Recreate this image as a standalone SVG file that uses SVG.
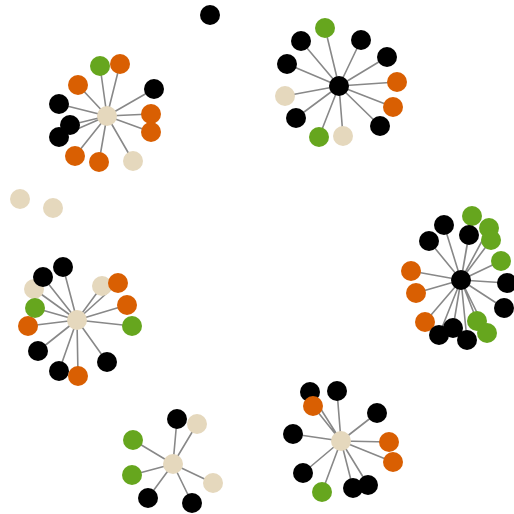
<svg xmlns="http://www.w3.org/2000/svg" width="514" height="514" viewBox="0 0 514 514">
<style>
.l{stroke:#888;stroke-width:1.6;fill:none}
.k{fill:#000}.o{fill:#d95f02}.g{fill:#66a61e}.b{fill:#e5d8bd}
</style>
<rect width="514" height="514" fill="#fff"/>
<g id="links" class="l">
<path d="M107 116L100 66M107 116L120 64M107 116L78 85M107 116L154 89M107 116L59 104M107 116L70 125M107 116L59 137M107 116L151 114M107 116L151 132M107 116L75 156M107 116L99 162M107 116L133 161"/>
<path d="M339 86L325 28M339 86L301 41M339 86L361 40M339 86L387 57M339 86L287 64M339 86L397 82M339 86L285 96M339 86L393 107M339 86L296 118M339 86L380 126M339 86L319 137M339 86L343 136"/>
<path d="M461 280L472 216M461 280L444 225M461 280L469 235M461 280L489 228M461 280L491 240M461 280L429 241M461 280L501 261M461 280L411 271M461 280L416 293M461 280L507 283M461 280L504 308M461 280L425 322M461 280L477 321M461 280L487 333M461 280L453 328M461 280L439 335M461 280L467 340"/>
<path d="M77 320L63 267M77 320L43 277M77 320L34 289M77 320L35 308M77 320L28 326M77 320L38 351M77 320L59 371M77 320L78 376M77 320L107 362M77 320L132 326M77 320L127 305M77 320L102 286M77 320L118 283"/>
<path d="M173 464L177 419M173 464L197 424M173 464L133 440M173 464L132 475M173 464L148 498M173 464L192 503M173 464L213 483"/>
<path d="M341 441L310 392M341 441L337 391M341 441L313 406M341 441L377 413M341 441L293 434M341 441L389 442M341 441L393 462M341 441L303 473M341 441L322 492M341 441L353 488M341 441L368 485"/>
</g>
<g id="isolated">
<circle id="n-iso1" class="k" cx="210" cy="15" r="10"/>
<circle id="n-iso2" class="b" cx="20" cy="199" r="10"/>
<circle id="n-iso3" class="b" cx="53" cy="208" r="10"/>
</g>
<g id="cluster1">
<circle class="g" cx="100" cy="66" r="10"/>
<circle class="o" cx="120" cy="64" r="10"/>
<circle class="o" cx="78" cy="85" r="10"/>
<circle class="k" cx="154" cy="89" r="10"/>
<circle class="k" cx="59" cy="104" r="10"/>
<circle class="k" cx="59" cy="137" r="10"/>
<circle class="k" cx="70" cy="125" r="10"/>
<circle class="o" cx="151" cy="114" r="10"/>
<circle class="o" cx="151" cy="132" r="10"/>
<circle class="o" cx="75" cy="156" r="10"/>
<circle class="o" cx="99" cy="162" r="10"/>
<circle class="b" cx="133" cy="161" r="10"/>
<circle id="c1" class="b" cx="107" cy="116" r="10"/>
</g>
<g id="cluster2">
<circle class="g" cx="325" cy="28" r="10"/>
<circle class="k" cx="301" cy="41" r="10"/>
<circle class="k" cx="361" cy="40" r="10"/>
<circle class="k" cx="387" cy="57" r="10"/>
<circle class="k" cx="287" cy="64" r="10"/>
<circle class="o" cx="397" cy="82" r="10"/>
<circle class="b" cx="285" cy="96" r="10"/>
<circle class="o" cx="393" cy="107" r="10"/>
<circle class="k" cx="296" cy="118" r="10"/>
<circle class="k" cx="380" cy="126" r="10"/>
<circle class="g" cx="319" cy="137" r="10"/>
<circle class="b" cx="343" cy="136" r="10"/>
<circle id="c2" class="k" cx="339" cy="86" r="10"/>
</g>
<g id="cluster3">
<circle class="g" cx="472" cy="216" r="10"/>
<circle class="k" cx="444" cy="225" r="10"/>
<circle class="k" cx="469" cy="235" r="10"/>
<circle class="g" cx="489" cy="228" r="10"/>
<circle class="g" cx="491" cy="240" r="10"/>
<circle class="k" cx="429" cy="241" r="10"/>
<circle class="g" cx="501" cy="261" r="10"/>
<circle class="o" cx="411" cy="271" r="10"/>
<circle class="o" cx="416" cy="293" r="10"/>
<circle class="k" cx="507" cy="283" r="10"/>
<circle class="k" cx="504" cy="308" r="10"/>
<circle class="o" cx="425" cy="322" r="10"/>
<circle class="g" cx="477" cy="321" r="10"/>
<circle class="g" cx="487" cy="333" r="10"/>
<circle class="k" cx="439" cy="335" r="10"/>
<circle class="k" cx="453" cy="328" r="10"/>
<circle class="k" cx="467" cy="340" r="10"/>
<circle id="c3" class="k" cx="461" cy="280" r="10"/>
</g>
<g id="cluster4">
<circle class="k" cx="63" cy="267" r="10"/>
<circle class="b" cx="34" cy="289" r="10"/>
<circle class="k" cx="43" cy="277" r="10"/>
<circle class="o" cx="28" cy="326" r="10"/>
<circle class="g" cx="35" cy="308" r="10"/>
<circle class="k" cx="38" cy="351" r="10"/>
<circle class="k" cx="59" cy="371" r="10"/>
<circle class="o" cx="78" cy="376" r="10"/>
<circle class="k" cx="107" cy="362" r="10"/>
<circle class="g" cx="132" cy="326" r="10"/>
<circle class="o" cx="127" cy="305" r="10"/>
<circle class="b" cx="102" cy="286" r="10"/>
<circle class="o" cx="118" cy="283" r="10"/>
<circle id="c4" class="b" cx="77" cy="320" r="10"/>
</g>
<g id="cluster5">
<circle class="k" cx="177" cy="419" r="10"/>
<circle class="b" cx="197" cy="424" r="10"/>
<circle class="g" cx="133" cy="440" r="10"/>
<circle class="g" cx="132" cy="475" r="10"/>
<circle class="k" cx="148" cy="498" r="10"/>
<circle class="k" cx="192" cy="503" r="10"/>
<circle class="b" cx="213" cy="483" r="10"/>
<circle id="c5" class="b" cx="173" cy="464" r="10"/>
</g>
<g id="cluster6">
<circle class="k" cx="310" cy="392" r="10"/>
<circle class="k" cx="337" cy="391" r="10"/>
<circle class="o" cx="313" cy="406" r="10"/>
<circle class="k" cx="377" cy="413" r="10"/>
<circle class="k" cx="293" cy="434" r="10"/>
<circle class="o" cx="389" cy="442" r="10"/>
<circle class="o" cx="393" cy="462" r="10"/>
<circle class="k" cx="303" cy="473" r="10"/>
<circle class="g" cx="322" cy="492" r="10"/>
<circle class="k" cx="368" cy="485" r="10"/>
<circle class="k" cx="353" cy="488" r="10"/>
<circle id="c6" class="b" cx="341" cy="441" r="10"/>
</g>
</svg>
